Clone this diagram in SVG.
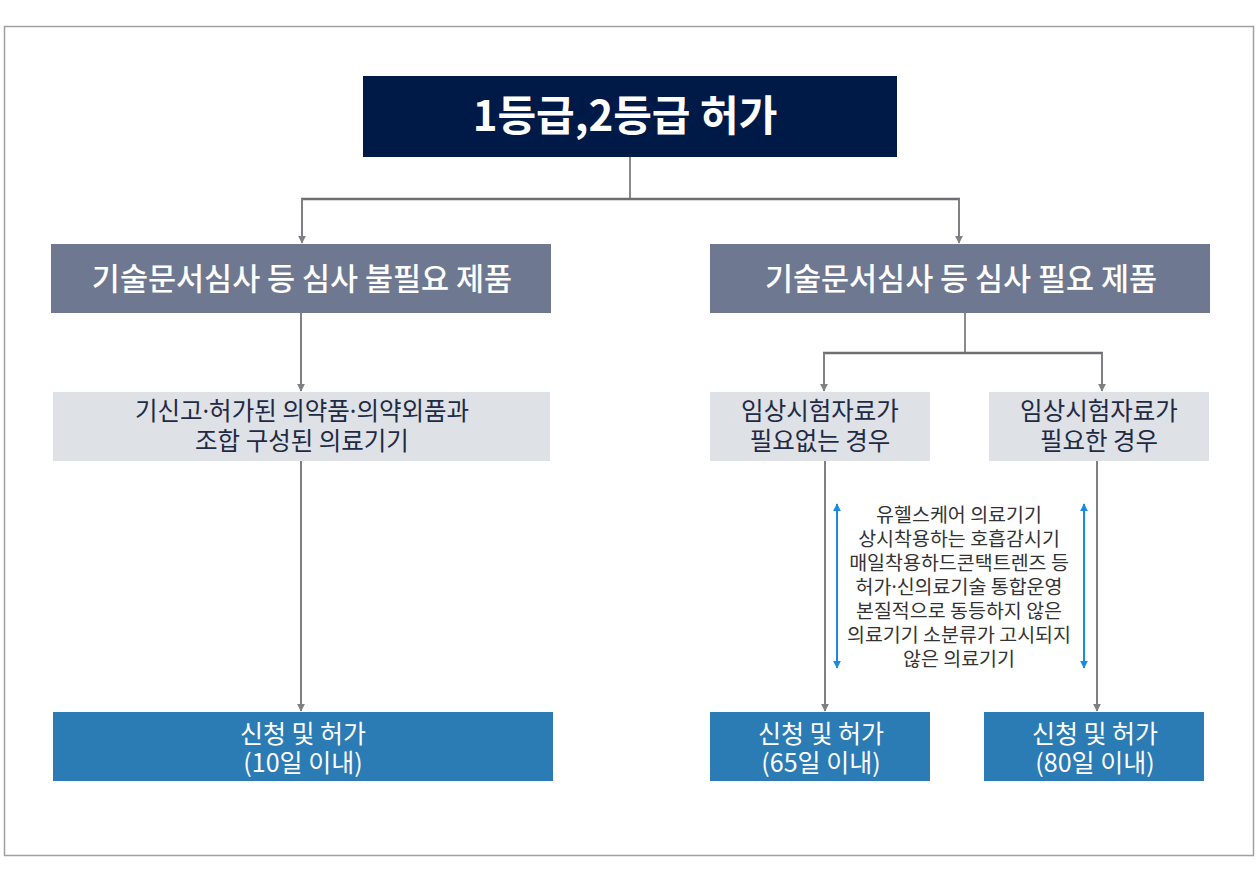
<svg xmlns="http://www.w3.org/2000/svg" width="1260" height="891" viewBox="0 0 1260 891">
<defs>
<marker id="ah" viewBox="0 0 10 10" refX="9" refY="5" markerWidth="4" markerHeight="4" orient="auto">
<path d="M0,0 L10,5 L0,10 z" fill="#7f8083"/>
</marker>
<marker id="bh" viewBox="0 0 10 10" refX="9" refY="5" markerWidth="4" markerHeight="4" orient="auto-start-reverse">
<path d="M0,0 L10,5 L0,10 z" fill="#1a8ce0"/>
</marker>
<style>
.t{font-family:"Noto Sans CJK KR","Noto Sans",sans-serif;text-anchor:middle}
.d{font-family:"Noto Sans",sans-serif}
.main{font-size:42px;font-weight:700;fill:#fff}
.cat{font-size:30.5px;font-weight:500;fill:#fff}
.sub{font-size:24.5px;fill:#1f2a44}
.res{font-size:25px;fill:#fff}
.note{font-size:19.5px;fill:#333}
.bar{stroke:#6d6e71;stroke-width:2.5;fill:none}
.drop{stroke:#7f8083;stroke-width:2;fill:none;marker-end:url(#ah)}
.blu{stroke:#1a8ce0;stroke-width:2;fill:none;marker-start:url(#bh);marker-end:url(#bh)}
</style>
</defs>
<rect x="4.5" y="26.5" width="1249" height="829" fill="#fff" stroke="#a0a0a0" stroke-width="1.5"/>
<g id="connectors">
<line class="bar" x1="630" y1="157" x2="630" y2="199" style="stroke:#8a8b8d;stroke-width:2"/>
<line class="bar" x1="301" y1="199" x2="960" y2="199"/>
<line class="drop" x1="302" y1="199" x2="302" y2="243"/>
<line class="drop" x1="959" y1="199" x2="959" y2="243"/>
<line class="drop" x1="301" y1="313" x2="301" y2="391"/>
<line class="drop" x1="301" y1="461" x2="301" y2="711"/>
<line class="bar" x1="965" y1="313" x2="965" y2="353" style="stroke:#8a8b8d;stroke-width:2"/>
<line class="bar" x1="823" y1="353" x2="1103" y2="353"/>
<line class="drop" x1="824" y1="353" x2="824" y2="391"/>
<line class="drop" x1="1102" y1="353" x2="1102" y2="391"/>
<line class="drop" x1="825" y1="461" x2="825" y2="711"/>
<line class="drop" x1="1097" y1="461" x2="1097" y2="711"/>
<line class="blu" x1="837" y1="504" x2="837" y2="668"/>
<line class="blu" x1="1084" y1="504" x2="1084" y2="668"/>
</g>
<g id="top">
<rect x="363" y="76" width="534" height="81" fill="#001a47"/>
<text class="t main" x="625" y="131">1등급,2등급 허가</text>
</g>
<g id="cat-left">
<rect x="51" y="244" width="500" height="69" fill="#6e7891"/>
<text class="t cat" x="302" y="290">기술문서심사 등 심사 불필요 제품</text>
</g>
<g id="cat-right">
<rect x="710" y="244" width="500" height="69" fill="#6e7891"/>
<text class="t cat" x="961" y="290">기술문서심사 등 심사 필요 제품</text>
</g>
<g id="sub-left">
<rect x="53" y="392" width="497" height="69" fill="#dee1e6"/>
<text class="t sub"><tspan x="302" y="420">기신고<tspan class="d">·</tspan>허가된 의약품<tspan class="d">·</tspan>의약외품과</tspan><tspan x="302" y="450">조합 구성된 의료기기</tspan></text>
</g>
<g id="sub-mid">
<rect x="710" y="392" width="220" height="69" fill="#dee1e6"/>
<text class="t sub"><tspan x="820" y="420">임상시험자료가</tspan><tspan x="820" y="450">필요없는 경우</tspan></text>
</g>
<g id="sub-right">
<rect x="989" y="392" width="220" height="69" fill="#dee1e6"/>
<text class="t sub"><tspan x="1099" y="420">임상시험자료가</tspan><tspan x="1099" y="450">필요한 경우</tspan></text>
</g>
<g id="note">
<text class="t note"><tspan x="959" y="522">유헬스케어 의료기기</tspan><tspan x="959" y="546">상시착용하는 호흡감시기</tspan><tspan x="959" y="570">매일착용하드콘택트렌즈 등</tspan><tspan x="959" y="594">허가<tspan class="d">·</tspan>신의료기술 통합운영</tspan><tspan x="959" y="618">본질적으로 동등하지 않은</tspan><tspan x="959" y="642">의료기기 소분류가 고시되지</tspan><tspan x="959" y="666">않은 의료기기</tspan></text>
</g>
<g id="res-left">
<rect x="53" y="712" width="500" height="69" fill="#2b7bb5"/>
<text class="t res"><tspan x="303" y="743">신청 및 허가</tspan><tspan x="303" y="772">(10일 이내)</tspan></text>
</g>
<g id="res-mid">
<rect x="710" y="712" width="220" height="69" fill="#2b7bb5"/>
<text class="t res"><tspan x="821" y="743">신청 및 허가</tspan><tspan x="821" y="772">(65일 이내)</tspan></text>
</g>
<g id="res-right">
<rect x="984" y="712" width="220" height="69" fill="#2b7bb5"/>
<text class="t res"><tspan x="1095" y="743">신청 및 허가</tspan><tspan x="1095" y="772">(80일 이내)</tspan></text>
</g>
</svg>
